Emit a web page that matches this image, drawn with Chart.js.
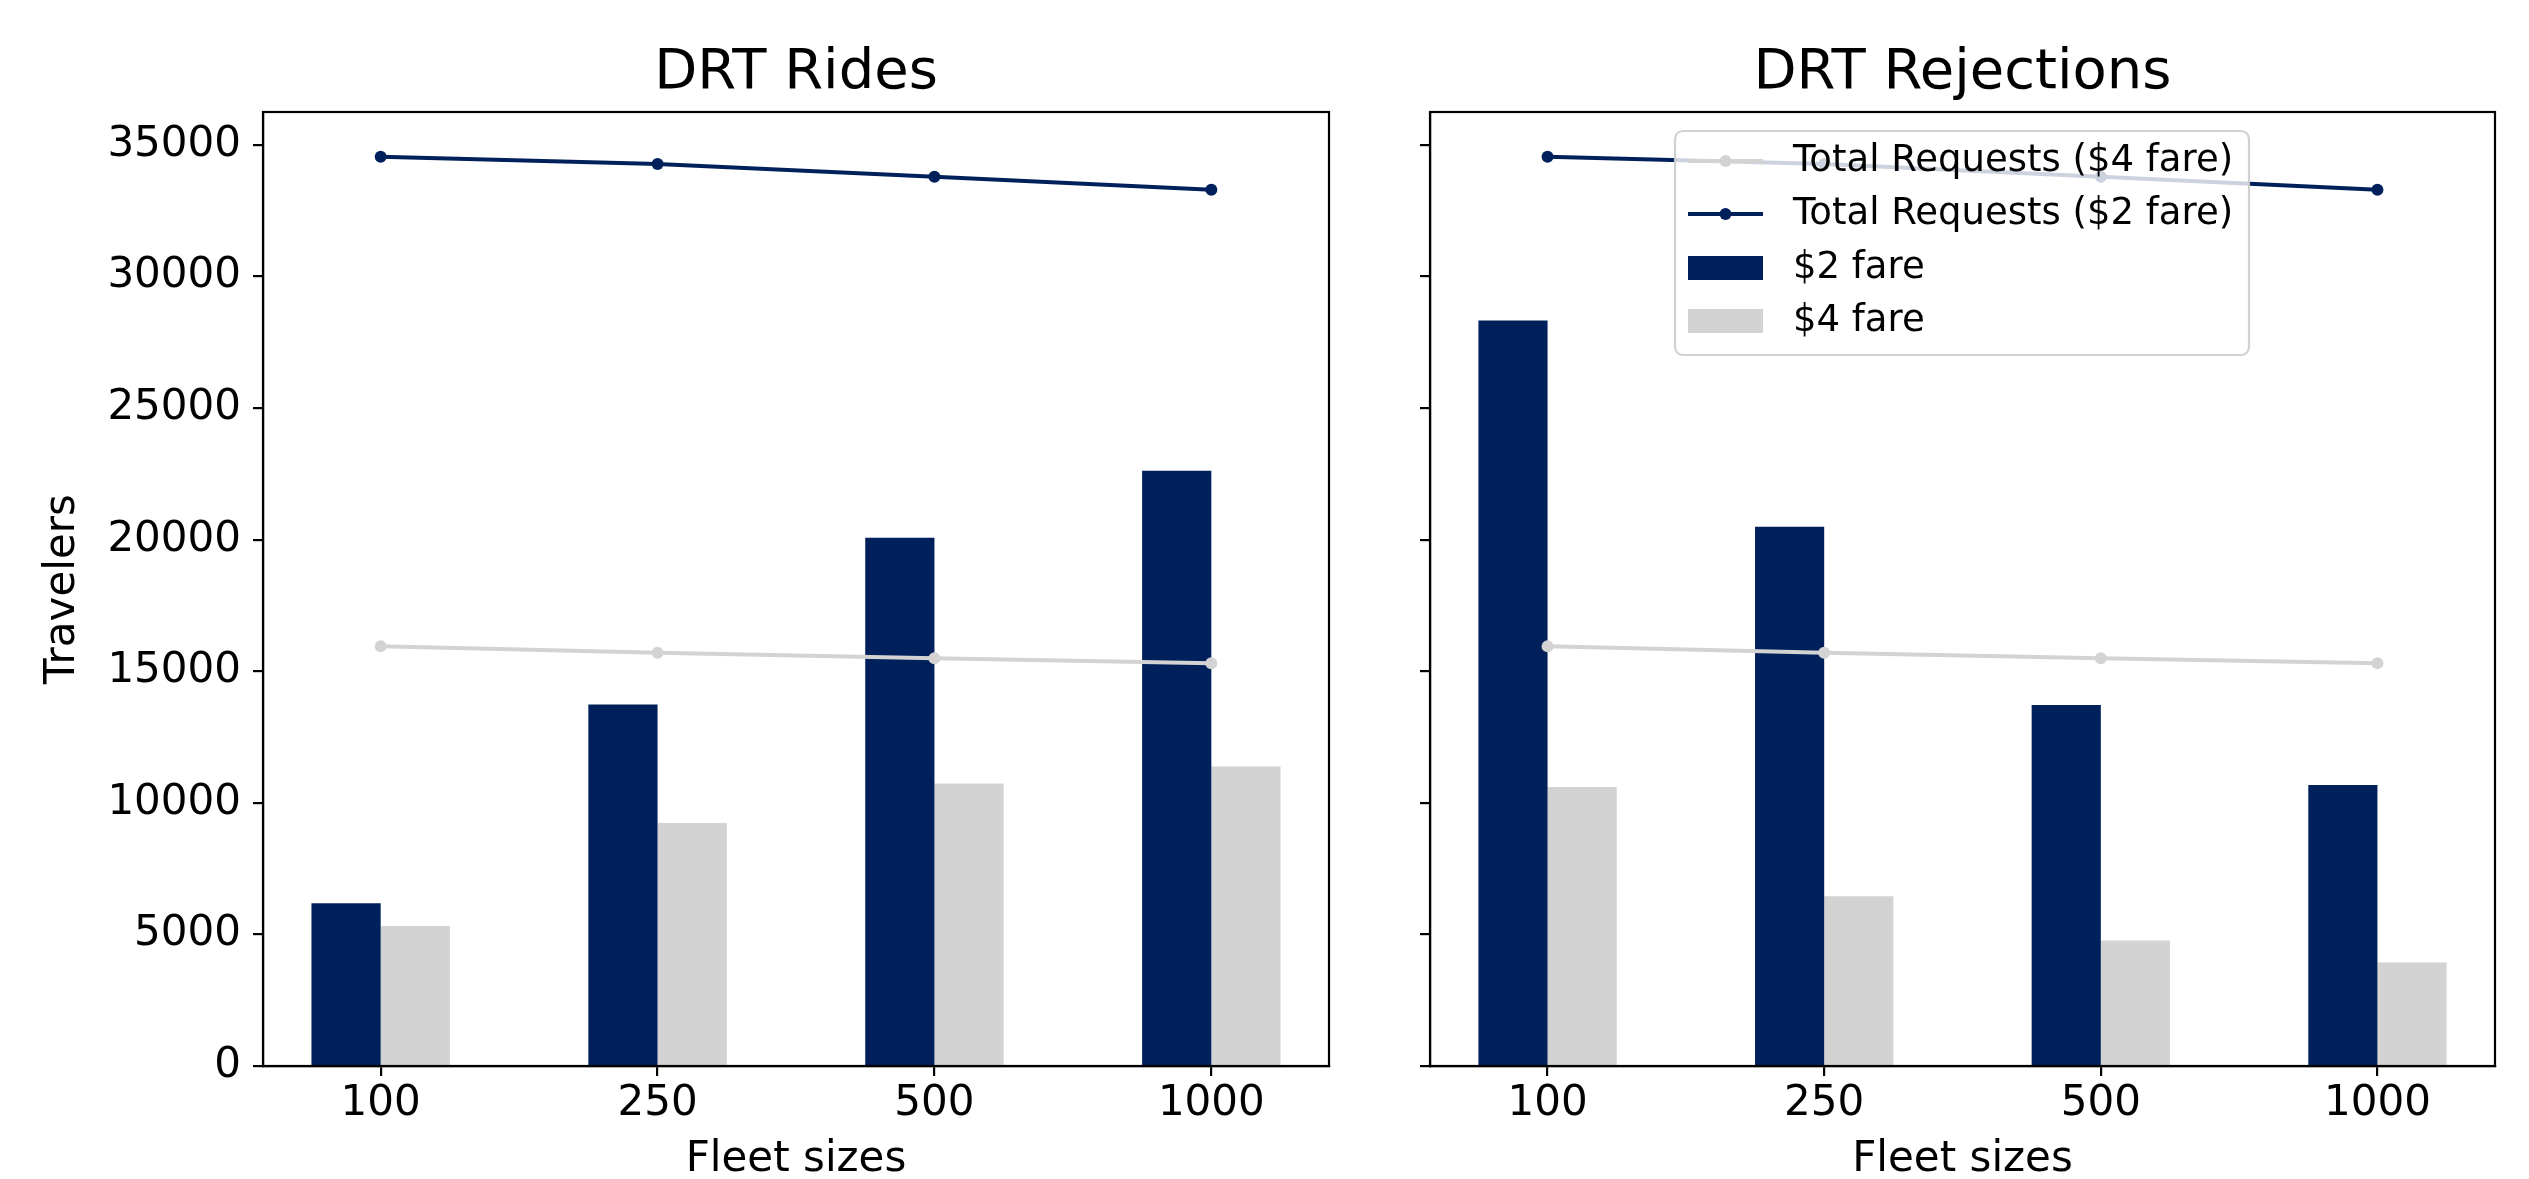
<!DOCTYPE html>
<html>
<head>
<meta charset="utf-8">
<script src="https://cdn.jsdelivr.net/npm/chart.js@4.4.0/dist/chart.umd.min.js"></script>
<style>
html,body{margin:0;padding:0;background:#fff;overflow:hidden;width:2529px;height:1179px}
canvas{position:absolute;top:0}
#c1{left:0}
#c2{left:1380px}
</style>
</head>
<body>
<canvas id="c1" width="1380" height="1179"></canvas>
<canvas id="c2" width="1149" height="1179"></canvas>
<script>
// ---- data ----
const categories = ['100', '250', '500', '1000'];
const ridesFare2 = [6180, 13740, 20070, 22620];
const ridesFare4 = [5320, 9230, 10735, 11380];
const rejectFare2 = [28330, 20495, 13715, 10675];
const rejectFare4 = [10600, 6450, 4770, 3935];
const totalFare2 = [34550, 34270, 33790, 33300];
const totalFare4 = [15945, 15700, 15495, 15305];
const yTicks = [0, 5000, 10000, 15000, 20000, 25000, 30000, 35000];

const NAVY = '#00205B';
const GRAY = '#D3D3D3';
const FONT = "'DejaVu Sans', 'Liberation Sans', sans-serif";
Chart.defaults.font.family = FONT;
Chart.defaults.color = '#000';

function pts(arr) { return arr.map((v, i) => ({ x: i, y: v })); }

const framePlugin = {
  id: 'frame',
  afterDatasetsDraw(chart) {
    const { ctx, chartArea: a } = chart;
    ctx.save();
    ctx.strokeStyle = '#000';
    ctx.lineWidth = 2.2;
    ctx.strokeRect(a.left, a.top, a.right - a.left, a.bottom - a.top);
    ctx.restore();
  }
};

function roundRectPath(ctx, x, y, w, h, r) {
  ctx.beginPath();
  ctx.moveTo(x + r, y);
  ctx.lineTo(x + w - r, y);
  ctx.arcTo(x + w, y, x + w, y + r, r);
  ctx.lineTo(x + w, y + h - r);
  ctx.arcTo(x + w, y + h, x + w - r, y + h, r);
  ctx.lineTo(x + r, y + h);
  ctx.arcTo(x, y + h, x, y + h - r, r);
  ctx.lineTo(x, y + r);
  ctx.arcTo(x, y, x + r, y, r);
  ctx.closePath();
}

const legendPlugin = {
  id: 'fareLegend',
  afterDatasetsDraw(chart) {
    const { ctx, chartArea: a } = chart;
    const bx = a.left + 245, by = a.top + 19, bw = 574, bh = 224;
    ctx.save();
    roundRectPath(ctx, bx, by, bw, bh, 8);
    ctx.fillStyle = 'rgba(255,255,255,0.8)';
    ctx.fill();
    ctx.strokeStyle = 'rgba(204,204,204,0.9)';
    ctx.lineWidth = 2.2;
    ctx.stroke();
    const rows = [30, 83, 137, 190];
    ctx.font = '37px ' + FONT;
    ctx.textBaseline = 'middle';
    ctx.textAlign = 'left';
    chart.data.datasets.forEach((ds, i) => {
      const cy = by + rows[i];
      const x1 = bx + 13, x2 = bx + 88;
      if (ds.type === 'line') {
        ctx.strokeStyle = ds.borderColor;
        ctx.lineWidth = 4;
        ctx.beginPath(); ctx.moveTo(x1, cy); ctx.lineTo(x2, cy); ctx.stroke();
        ctx.fillStyle = ds.borderColor;
        ctx.beginPath(); ctx.arc((x1 + x2) / 2, cy, 6, 0, Math.PI * 2); ctx.fill();
      } else {
        ctx.fillStyle = ds.backgroundColor;
        ctx.fillRect(x1, cy - 12, x2 - x1, 24);
      }
      ctx.fillStyle = '#000';
      ctx.fillText(ds.label, bx + 118, cy);
    });
    ctx.restore();
  }
};

function makeChart(id, title, fare2, fare4, o) {
  const plugins = [framePlugin];
  if (o.legend) plugins.push(legendPlugin);
  return new Chart(document.getElementById(id), {
    type: 'bar',
    data: {
      datasets: [
        { type: 'line', label: 'Total Requests ($4 fare)', data: pts(totalFare4),
          borderColor: GRAY, backgroundColor: GRAY, borderWidth: 4, pointRadius: 6,
          pointBorderWidth: 0, pointHoverRadius: 6, tension: 0, order: 0 },
        { type: 'line', label: 'Total Requests ($2 fare)', data: pts(totalFare2),
          borderColor: NAVY, backgroundColor: NAVY, borderWidth: 4, pointRadius: 6,
          pointBorderWidth: 0, pointHoverRadius: 6, tension: 0, order: 0 },
        { type: 'bar', label: '$2 fare', data: pts(fare2), backgroundColor: NAVY,
          borderWidth: 0, barPercentage: 1, categoryPercentage: 0.5, order: 1 },
        { type: 'bar', label: '$4 fare', data: pts(fare4), backgroundColor: GRAY,
          borderWidth: 0, barPercentage: 1, categoryPercentage: 0.5, order: 1 }
      ]
    },
    options: {
      responsive: false,
      animation: false,
      events: [],
      layout: { padding: { left: 0, right: o.padRight, top: 0, bottom: 0 } },
      plugins: {
        legend: { display: false },
        tooltip: { enabled: false },
        title: {
          display: true, text: title, fullSize: false, color: '#000',
          font: { size: 56, weight: 'normal', lineHeight: 1.2 },
          padding: { top: 39.9, bottom: 4.9 }
        }
      },
      scales: {
        x: {
          type: 'linear', min: -0.425, max: 3.425, offset: false,
          afterBuildTicks: s => { s.ticks = categories.map((c, i) => ({ value: i })); },
          afterFit: s => { s.height = 113; },
          ticks: { callback: v => categories[v], font: { size: 42 }, padding: 3.3,
                   color: '#000', maxRotation: 0, autoSkip: false },
          grid: { display: true, offset: false, drawOnChartArea: false, drawTicks: true, tickLength: 10,
                  color: '#000', lineWidth: 2.2 },
          border: { display: true, color: '#000', width: 2.2 },
          title: { display: true, text: 'Fleet sizes', color: '#000',
                   font: { size: 42, lineHeight: 0.9 }, padding: { top: 0, bottom: 0 } }
        },
        y: {
          min: 0, max: 36250,
          afterBuildTicks: s => { s.ticks = yTicks.map(v => ({ value: v })); },
          afterFit: s => { s.width = o.yWidth; },
          ticks: { callback: v => (o.showY ? String(v) : ''), font: { size: 42 }, padding: 12,
                   color: '#000' },
          grid: { display: true, drawOnChartArea: false, drawTicks: true, tickLength: 10,
                  color: '#000', lineWidth: 2.2 },
          border: { display: true, color: '#000', width: 2.2 },
          title: o.showY
            ? { display: true, text: 'Travelers', color: '#000',
                font: { size: 42, lineHeight: 1.2 }, padding: { top: 37.8, bottom: 0 } }
            : { display: false }
        }
      }
    },
    plugins: plugins
  });
}

makeChart('c1', 'DRT Rides', ridesFare2, ridesFare4, { padRight: 51, yWidth: 263, showY: true, legend: false });
makeChart('c2', 'DRT Rejections', rejectFare2, rejectFare4, { padRight: 34, yWidth: 50, showY: false, legend: true });
</script>
</body>
</html>
